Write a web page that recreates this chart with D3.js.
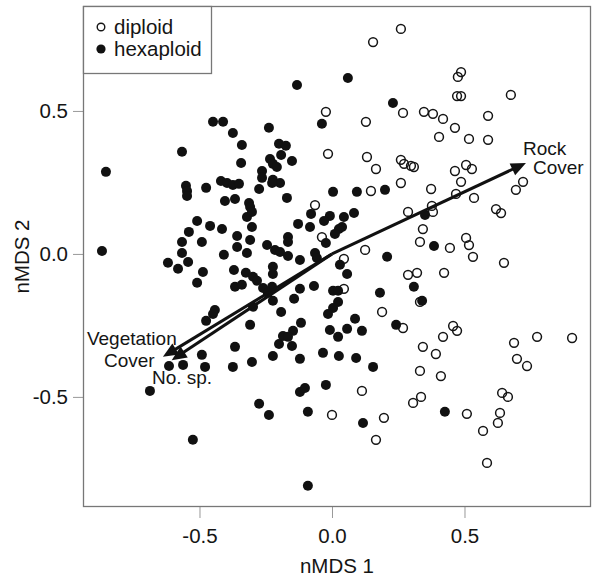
<!DOCTYPE html>
<html>
<head>
<meta charset="utf-8">
<script src="https://cdn.jsdelivr.net/npm/d3@7"></script>
<style>
  body { margin: 0; background: #fff; }
  text { font-family: Arial, "Liberation Sans", sans-serif; fill: #151515; }
</style>
</head>
<body>
<div id="chart"></div>
<script>
// nMDS scores
const diploid = [
  [0.260, 0.787], [0.155, 0.741], [-0.023, 0.497], [0.268, 0.493], [0.347, 0.497],
  [0.128, 0.462], [0.487, 0.636], [0.475, 0.619], [0.472, 0.552], [0.487, 0.552],
  [0.675, 0.556], [0.381, 0.490], [0.419, 0.472], [0.589, 0.483], [0.464, 0.441],
  [0.404, 0.409], [0.517, 0.402], [0.589, 0.399], [0.464, 0.290], [0.506, 0.311],
  [0.528, 0.297], [0.487, 0.252], [0.374, 0.227], [0.468, 0.210], [0.536, 0.196],
  [0.377, 0.168], [0.381, 0.147], [0.619, 0.157], [0.638, 0.143], [0.694, 0.224],
  [0.721, 0.252], [0.343, 0.087], [0.445, 0.021], [0.506, 0.056], [0.517, 0.031],
  [0.532, -0.010], [0.649, -0.031], [0.332, 0.042], [-0.015, 0.350], [0.132, 0.339],
  [0.166, 0.297], [0.260, 0.329], [0.272, 0.315], [0.298, 0.308], [0.309, 0.304],
  [0.260, 0.248], [0.147, 0.220], [-0.064, 0.171], [0.287, 0.147], [-0.038, 0.059],
  [0.125, 0.014], [0.045, -0.017], [0.045, -0.122], [0.287, -0.073], [0.321, -0.066],
  [0.189, -0.203], [0.268, -0.259], [0.343, -0.325], [0.332, -0.409], [0.113, -0.479],
  [0.332, -0.168], [0.423, -0.066], [0.457, -0.252], [0.472, -0.269], [0.419, -0.290],
  [0.392, -0.350], [0.411, -0.427], [0.687, -0.311], [0.774, -0.290], [0.906, -0.294],
  [0.698, -0.367], [0.736, -0.392], [0.642, -0.486], [0.664, -0.500], [0.509, -0.559],
  [0.634, -0.556], [0.626, -0.591], [0.570, -0.619], [0.585, -0.731], [0.336, -0.500],
  [0.000, -0.563], [0.196, -0.573], [0.166, -0.650], [0.306, -0.521]
];

const hexaploid = [
  [-0.449, 0.462], [-0.411, 0.462], [-0.374, 0.423], [0.060, 0.615], [-0.132, 0.591],
  [0.230, 0.528], [-0.038, 0.455], [-0.238, 0.441], [-0.340, 0.381], [-0.566, 0.357],
  [-0.343, 0.318], [-0.853, 0.287], [-0.551, 0.238], [-0.547, 0.220], [-0.547, 0.203],
  [-0.475, 0.231], [-0.419, 0.255], [-0.396, 0.248], [-0.374, 0.241], [-0.351, 0.245],
  [-0.404, 0.185], [-0.366, 0.192], [-0.313, 0.178], [-0.309, 0.164], [-0.321, 0.129],
  [-0.509, 0.115], [-0.460, 0.098], [-0.540, 0.077], [-0.415, 0.087], [-0.358, 0.063],
  [-0.566, 0.042], [-0.491, 0.042], [-0.358, 0.024], [-0.321, 0.003], [-0.302, 0.094],
  [-0.868, 0.010], [-0.566, 0.003], [-0.408, -0.003], [-0.543, -0.028], [-0.619, -0.031],
  [-0.309, 0.049], [-0.200, 0.385], [-0.174, 0.378], [-0.192, 0.346], [-0.151, 0.325],
  [-0.234, 0.332], [-0.223, 0.315], [-0.208, 0.304], [-0.264, 0.290], [-0.264, 0.266],
  [-0.223, 0.259], [-0.196, 0.248], [-0.226, 0.248], [-0.275, 0.227], [-0.170, 0.196],
  [0.004, 0.217], [0.094, 0.217], [0.200, 0.224], [0.083, 0.143], [-0.079, 0.140],
  [-0.008, 0.133], [-0.030, 0.115], [0.045, 0.129], [0.038, 0.094], [0.026, 0.087],
  [-0.083, 0.094], [-0.128, 0.105], [0.011, 0.070], [-0.023, 0.038], [-0.302, 0.147],
  [-0.245, 0.031], [-0.215, 0.014], [-0.196, 0.007], [-0.166, 0.059], [-0.166, 0.042],
  [-0.166, -0.007], [-0.121, -0.021], [-0.064, 0.003], [-0.057, -0.014], [0.030, -0.038],
  [0.208, -0.010], [0.351, 0.136], [0.385, 0.028], [-0.581, -0.052], [-0.487, -0.063],
  [-0.509, -0.101], [-0.370, -0.056], [-0.325, -0.066], [-0.298, -0.080], [-0.366, -0.115],
  [-0.340, -0.108], [-0.442, -0.196], [-0.449, -0.210], [-0.475, -0.234], [-0.309, -0.248],
  [-0.298, -0.185], [-0.366, -0.325], [-0.302, -0.378], [-0.374, -0.395], [-0.491, -0.353],
  [-0.479, -0.395], [-0.615, -0.392], [-0.562, -0.388], [-0.687, -0.479], [-0.223, -0.045],
  [-0.223, -0.070], [-0.283, -0.094], [-0.260, -0.119], [-0.226, -0.115], [-0.242, -0.136],
  [-0.223, -0.164], [-0.192, -0.203], [-0.121, -0.122], [-0.143, -0.157], [-0.068, -0.112],
  [0.057, -0.070], [0.004, -0.129], [0.023, -0.129], [0.023, -0.168], [0.004, -0.189],
  [-0.015, -0.210], [0.087, -0.227], [0.057, -0.262], [0.113, -0.269], [-0.008, -0.266],
  [0.023, -0.290], [-0.147, -0.269], [-0.185, -0.287], [-0.166, -0.290], [-0.200, -0.315],
  [-0.151, -0.322], [-0.117, -0.241], [-0.223, -0.357], [-0.121, -0.367], [-0.034, -0.346],
  [0.026, -0.357], [0.091, -0.364], [0.155, -0.395], [-0.023, -0.458], [-0.121, -0.483],
  [-0.102, -0.469], [0.181, -0.136], [0.242, -0.248], [0.309, -0.115], [0.340, -0.164],
  [-0.275, -0.524], [-0.238, -0.563], [-0.091, -0.552], [0.117, -0.591], [-0.091, -0.811],
  [-0.525, -0.650], [0.426, -0.552]
];

// fitted environmental vectors
const vectorNames = ['Rock Cover', 'Vegetation Cover', 'No. sp.'];
const vectorX = [0.732, -0.638, -0.605];
const vectorY = [0.318, -0.360, -0.372];

const xTicks = [-0.5, 0, 0.5];
const yTicks = [-0.5, 0, 0.5];
const legendLabels = ['diploid', 'hexaploid'];

const width = 600, height = 580;
const margin = { top: 6, right: 9, bottom: 73, left: 83 };

const x = d3.scaleLinear().domain([-0.9396, 0.9774])
  .range([margin.left, width - margin.right]);
const y = d3.scaleLinear().domain([-0.885, 0.867])
  .range([height - margin.bottom, margin.top]);

const svg = d3.select('#chart').append('svg')
  .attr('width', width)
  .attr('height', height);

// plain hyphen for negatives, like the original
const fmt = d3.formatLocale({ decimal: '.', thousands: ',', grouping: [3], currency: ['', ''], minus: '-' }).format('.1f');

// axes
const xAxis = svg.append('g')
  .attr('transform', `translate(0,${height - margin.bottom})`)
  .call(d3.axisBottom(x).tickValues(xTicks).tickFormat(fmt).tickSize(11).tickPadding(6));
const yAxis = svg.append('g')
  .attr('transform', `translate(${margin.left},0)`)
  .call(d3.axisLeft(y).tickValues(yTicks).tickFormat(fmt).tickSize(10).tickPadding(5));

[xAxis, yAxis].forEach(g => {
  g.select('.domain').remove();
  g.selectAll('.tick line').attr('stroke', '#999').attr('stroke-width', 1);
  g.selectAll('.tick text')
    .attr('font-size', 20.5)
    .attr('font-family', 'Arial, "Liberation Sans", sans-serif')
    .attr('fill', '#151515');
});
xAxis.selectAll('.tick text').attr('dy', '0.95em');

// frame
svg.append('rect')
  .attr('x', margin.left + 0.5)
  .attr('y', margin.top + 0.5)
  .attr('width', width - margin.left - margin.right - 1)
  .attr('height', height - margin.top - margin.bottom - 1)
  .attr('fill', 'none')
  .attr('stroke', '#777')
  .attr('stroke-width', 1.3);

// axis titles
svg.append('text')
  .attr('x', (x.range()[0] + x.range()[1]) / 2)
  .attr('y', 573)
  .attr('text-anchor', 'middle')
  .attr('font-size', 20.5)
  .text('nMDS 1');

svg.append('text')
  .attr('transform', `translate(29,${(y.range()[0] + y.range()[1]) / 2}) rotate(-90)`)
  .attr('text-anchor', 'middle')
  .attr('font-size', 20.5)
  .text('nMDS 2');

// points
const plot = svg.append('g');

plot.selectAll('circle.dip')
  .data(diploid)
  .join('circle')
    .attr('class', 'dip')
    .attr('cx', d => x(d[0]))
    .attr('cy', d => y(d[1]))
    .attr('r', 4.4)
    .attr('fill', 'none')
    .attr('stroke', '#151515')
    .attr('stroke-width', 1.5);

plot.selectAll('circle.hex')
  .data(hexaploid)
  .join('circle')
    .attr('class', 'hex')
    .attr('cx', d => x(d[0]))
    .attr('cy', d => y(d[1]))
    .attr('r', 5)
    .attr('fill', '#111');

// vectors
const headLen = 15, headHalf = 6.5;
const arrows = svg.append('g');
vectorNames.forEach((name, i) => {
  const x0 = x(0), y0 = y(0);
  const x1 = x(vectorX[i]), y1 = y(vectorY[i]);
  const len = Math.hypot(x1 - x0, y1 - y0);
  const ux = (x1 - x0) / len, uy = (y1 - y0) / len;
  const bx = x1 - ux * headLen, by = y1 - uy * headLen;
  arrows.append('line')
    .attr('x1', x0).attr('y1', y0)
    .attr('x2', bx + ux * 2).attr('y2', by + uy * 2)
    .attr('stroke', '#111')
    .attr('stroke-width', 3);
  arrows.append('path')
    .attr('d', `M${x1},${y1}L${bx - uy * headHalf},${by + ux * headHalf}L${bx + uy * headHalf},${by - ux * headHalf}Z`)
    .attr('fill', '#111');
});

// vector labels
const labelFont = 19;
const rockX = x(vectorX[0]), rockY = y(vectorY[0]);
svg.append('text').attr('x', rockX - 3).attr('y', rockY - 8)
  .attr('font-size', labelFont).text('Rock');
svg.append('text').attr('x', rockX + 7).attr('y', rockY + 11)
  .attr('font-size', labelFont).text('Cover');

const vegX = x(vectorX[1]), vegY = y(vectorY[1]);
svg.append('text').attr('x', vegX - 76).attr('y', vegY - 12)
  .attr('font-size', labelFont).text('Vegetation');
svg.append('text').attr('x', vegX - 59).attr('y', vegY + 10)
  .attr('font-size', labelFont).text('Cover');
svg.append('text').attr('x', vegX - 11).attr('y', vegY + 27)
  .attr('font-size', labelFont).text('No. sp.');

// legend
const legend = svg.append('g');
legend.append('rect')
  .attr('x', margin.left + 0.5)
  .attr('y', margin.top + 0.5)
  .attr('width', 128)
  .attr('height', 67)
  .attr('fill', '#fff')
  .attr('stroke', '#777')
  .attr('stroke-width', 1.3);

legendLabels.forEach((lab, i) => {
  const cy = 27 + i * 22;
  if (i === 0) {
    legend.append('circle').attr('cx', 101).attr('cy', cy).attr('r', 3.8)
      .attr('fill', 'none').attr('stroke', '#151515').attr('stroke-width', 1.4);
  } else {
    legend.append('circle').attr('cx', 101).attr('cy', cy).attr('r', 4.6)
      .attr('fill', '#111');
  }
  legend.append('text')
    .attr('x', 114)
    .attr('y', cy + 7)
    .attr('font-size', 20.5)
    .text(lab);
});
</script>
</body>
</html>
